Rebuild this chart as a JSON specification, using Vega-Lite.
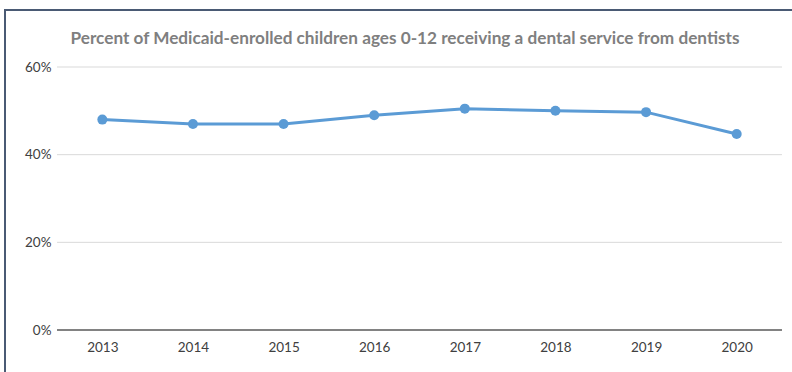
{
  "$schema": "https://vega.github.io/schema/vega-lite/v6.json",
  "autosize": "none",
  "padding": {"left": 5, "top": 10, "right": 0, "bottom": 0},
  "width": 800,
  "height": 380,
  "config": {
    "view": {"stroke": "#4a5a74", "strokeWidth": 2},
    "font": "Lato"
  },
  "title": {
    "text": "Percent of Medicaid-enrolled children ages 0-12 receiving a dental service from dentists",
    "anchor": "middle",
    "offset": -37,
    "font": "Lato",
    "fontSize": 17.2,
    "fontWeight": "bold",
    "color": "#7f7f7f"
  },
  "datasets": {
    "trend": [
      {"year": 2013, "pct": 48.0},
      {"year": 2014, "pct": 47.0},
      {"year": 2015, "pct": 47.0},
      {"year": 2016, "pct": 49.0},
      {"year": 2017, "pct": 50.5},
      {"year": 2018, "pct": 50.0},
      {"year": 2019, "pct": 49.7},
      {"year": 2020, "pct": 44.7}
    ],
    "grid": [{"g": 20}, {"g": 40}, {"g": 60}],
    "base": [{"g": 0}]
  },
  "layer": [
    {
      "data": {"name": "grid"},
      "mark": {"type": "rule", "color": "#d9d9d9", "strokeWidth": 1},
      "encoding": {
        "y": {"field": "g", "type": "quantitative"},
        "x": {"datum": 2012.5, "type": "quantitative"},
        "x2": {"datum": 2020.5}
      }
    },
    {
      "data": {"name": "base"},
      "mark": {"type": "rule", "color": "#595959", "strokeWidth": 1.5},
      "encoding": {
        "y": {"field": "g", "type": "quantitative"},
        "x": {"datum": 2012.5, "type": "quantitative"},
        "x2": {"datum": 2020.5}
      }
    },
    {
      "data": {"name": "trend"},
      "mark": {
        "type": "line",
        "color": "#5b9bd5",
        "strokeWidth": 3,
        "point": {"filled": true, "size": 100, "color": "#5b9bd5"}
      },
      "encoding": {
        "x": {
          "field": "year",
          "type": "quantitative",
          "scale": {"domain": [2011.926, 2020.754], "nice": false, "zero": false},
          "axis": {
            "title": null,
            "values": [2013, 2014, 2015, 2016, 2017, 2018, 2019, 2020],
            "format": "d",
            "grid": false,
            "domain": false,
            "ticks": false,
            "offset": -59,
            "labelPadding": 9,
            "labelFont": "Lato",
            "labelFontSize": 13.5,
            "labelColor": "#404040"
          }
        },
        "y": {
          "field": "pct",
          "type": "quantitative",
          "scale": {"domain": [-13.688, 73.004], "nice": false, "zero": false},
          "axis": {
            "title": null,
            "values": [0, 20, 40, 60],
            "labelExpr": "datum.value + '%'",
            "grid": false,
            "domain": false,
            "ticks": false,
            "offset": -46,
            "labelPadding": 0,
            "labelFont": "Lato",
            "labelFontSize": 13.5,
            "labelColor": "#404040"
          }
        }
      }
    }
  ]
}
